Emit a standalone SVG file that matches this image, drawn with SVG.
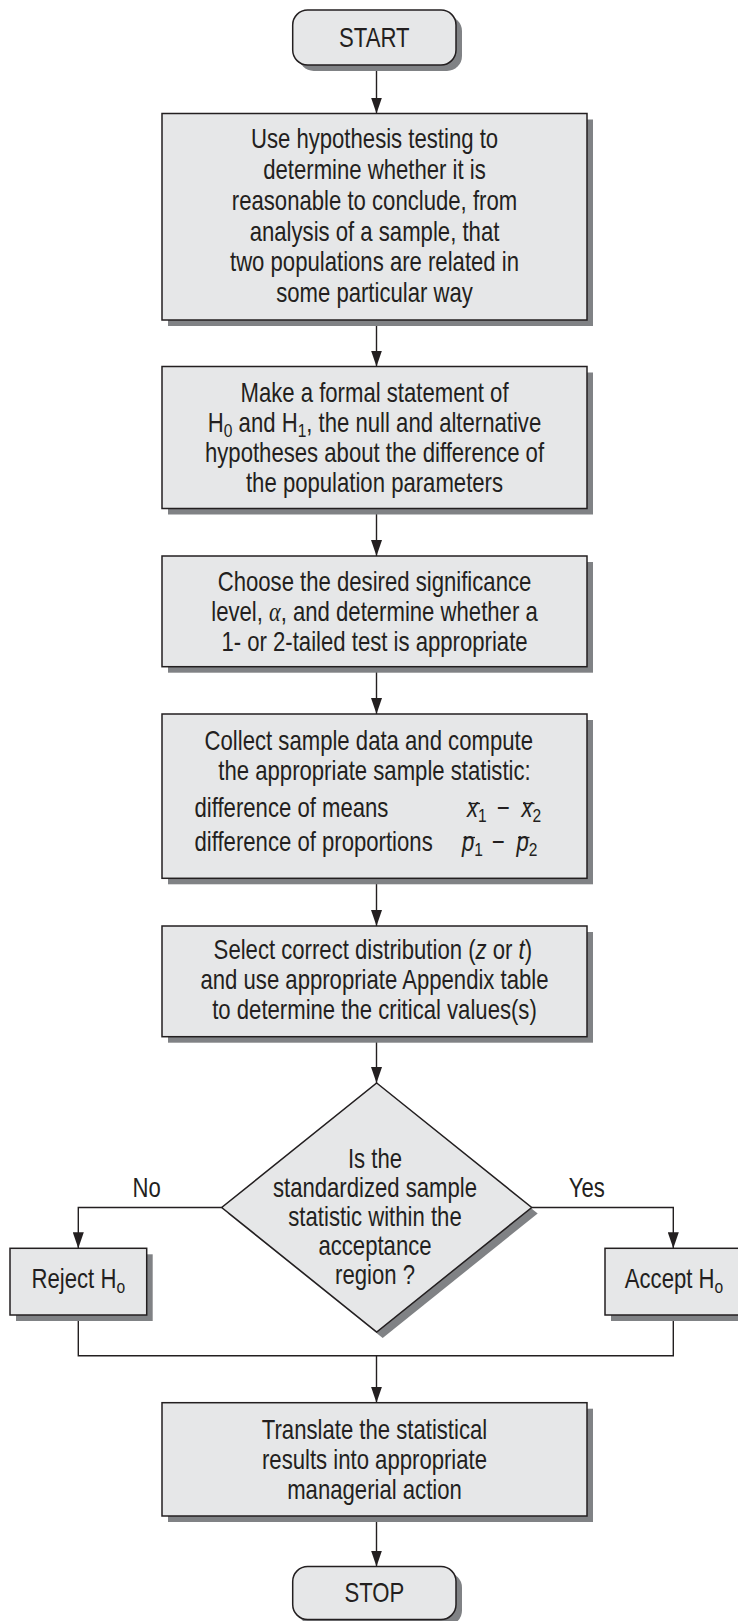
<svg xmlns="http://www.w3.org/2000/svg" width="738" height="1621" viewBox="0 0 738 1621">
  <defs>
    <style>
      .box{fill:#e6e7e8;stroke:#231f20;stroke-width:1.5}
      .shadow{fill:#808285}
      .t{font-family:"Liberation Sans",Arial,sans-serif;font-size:27px;fill:#231f20;text-anchor:middle}
      .l{text-anchor:start}
      .sub{font-size:19px}
      .it{font-style:italic}
      .greek{font-family:"Liberation Serif","DejaVu Serif",serif;font-style:italic}
      .wire{fill:none;stroke:#231f20;stroke-width:1.4}
      .arrow{marker-end:url(#ah)}
      .bar{stroke:#231f20;stroke-width:1.3}
    </style>
    <marker id="ah" markerUnits="userSpaceOnUse" markerWidth="16" markerHeight="11" refX="16" refY="5.5" orient="auto">
      <path d="M0,0 L16,5.5 L0,11 z" fill="#231f20"/>
    </marker>
  </defs>

  <rect width="738" height="1621" fill="#ffffff"/>

  <!-- connectors; every label block is narrowed with scale(0.82 1) to a condensed face -->
  <g id="connectors">
    <path class="wire arrow" d="M376.5,65 V113.5"/>
    <path class="wire arrow" d="M376.5,320 V366.5"/>
    <path class="wire arrow" d="M376.5,508.5 V556"/>
    <path class="wire arrow" d="M376.5,666.7 V714"/>
    <path class="wire arrow" d="M376.5,878.3 V926"/>
    <path class="wire arrow" d="M376.5,1036.7 V1083"/>
    <path class="wire arrow" d="M221.7,1207.5 H78.3 V1248.3"/>
    <path class="wire arrow" d="M531.7,1207.5 H673.3 V1248.3"/>
    <path class="wire" d="M78.3,1315 V1355.7 H673.3 V1315"/>
    <path class="wire arrow" d="M376.5,1355.7 V1402.7"/>
    <path class="wire arrow" d="M376.5,1516 V1566.5"/>
    <g transform="translate(146.7 0) scale(0.82 1)"><text class="t" x="0" y="1197.5">No</text></g>
    <g transform="translate(586.7 0) scale(0.82 1)"><text class="t" x="0" y="1197.5">Yes</text></g>
  </g>

  <!-- terminal: start -->
  <g id="start">
    <rect class="shadow" x="298.7" y="16" width="163.3" height="55" rx="15"/>
    <rect class="box" x="292.7" y="10" width="163.3" height="55" rx="15"/>
    <g transform="translate(374.3 0) scale(0.82 1)"><text class="t" x="0" y="47">START</text></g>
  </g>

  <!-- step 1 -->
  <g id="purpose">
    <rect class="shadow" x="168" y="119.5" width="425" height="206.5"/>
    <rect class="box" x="162" y="113.5" width="425" height="206.5"/>
    <g transform="translate(374.5 0) scale(0.82 1)">
      <text class="t" x="0" y="148.5">Use hypothesis testing to</text>
      <text class="t" x="0" y="179.2">determine whether it is</text>
      <text class="t" x="0" y="209.9">reasonable to conclude, from</text>
      <text class="t" x="0" y="240.6">analysis of a sample, that</text>
      <text class="t" x="0" y="271.3">two populations are related in</text>
      <text class="t" x="0" y="302">some particular way</text>
    </g>
  </g>

  <!-- step 2 -->
  <g id="hypotheses">
    <rect class="shadow" x="168" y="372.5" width="425" height="142"/>
    <rect class="box" x="162" y="366.5" width="425" height="142"/>
    <g transform="translate(374.5 0) scale(0.82 1)">
      <text class="t" x="0" y="402">Make a formal statement of</text>
      <text class="t" x="0" y="432">H<tspan class="sub" dy="5">0</tspan><tspan dy="-5"> and H</tspan><tspan class="sub" dy="5">1</tspan><tspan dy="-5">, the null and alternative</tspan></text>
      <text class="t" x="0" y="462">hypotheses about the difference of</text>
      <text class="t" x="0" y="492">the population parameters</text>
    </g>
  </g>

  <!-- step 3 -->
  <g id="significance">
    <rect class="shadow" x="168" y="562" width="425" height="110.7"/>
    <rect class="box" x="162" y="556" width="425" height="110.7"/>
    <g transform="translate(374.5 0) scale(0.82 1)">
      <text class="t" x="0" y="591">Choose the desired significance</text>
      <text class="t" x="0" y="621">level, <tspan class="greek">α</tspan>, and determine whether a</text>
      <text class="t" x="0" y="651">1- or 2-tailed test is appropriate</text>
    </g>
  </g>

  <!-- step 4 -->
  <g id="statistic">
    <rect class="shadow" x="168" y="720" width="425" height="164.3"/>
    <rect class="box" x="162" y="714" width="425" height="164.3"/>
    <g transform="translate(374.5 0) scale(0.82 1)">
      <text class="t" x="-7" y="750">Collect sample data and compute</text>
      <text class="t" x="0" y="780">the appropriate sample statistic:</text>
    </g>
    <g transform="translate(194.5 0) scale(0.82 1)">
      <text class="t l" x="0" y="817">difference of means</text>
      <text class="t l" x="0" y="851">difference of proportions</text>
    </g>
    <g transform="translate(462 0) scale(0.82 1)">
      <text class="t l" x="6.1" y="817"><tspan class="it">x</tspan><tspan class="sub" dy="5">1</tspan></text>
      <text class="t l" x="42.7" y="817">−</text>
      <text class="t l" x="72.6" y="817"><tspan class="it">x</tspan><tspan class="sub" dy="5">2</tspan></text>
      <text class="t l" x="0" y="851"><tspan class="it">p</tspan><tspan class="sub" dy="5">1</tspan></text>
      <text class="t l" x="36.6" y="851">−</text>
      <text class="t l" x="66.5" y="851"><tspan class="it">p</tspan><tspan class="sub" dy="5">2</tspan></text>
    </g>
    <line class="bar" x1="468.5" y1="803.5" x2="480" y2="803.5"/>
    <line class="bar" x1="523" y1="803.5" x2="534.5" y2="803.5"/>
    <line class="bar" x1="463.5" y1="837.5" x2="475" y2="837.5"/>
    <line class="bar" x1="518" y1="837.5" x2="529.5" y2="837.5"/>
  </g>

  <!-- step 5 -->
  <g id="distribution">
    <rect class="shadow" x="168" y="932" width="425" height="110.7"/>
    <rect class="box" x="162" y="926" width="425" height="110.7"/>
    <g transform="translate(374.5 0) scale(0.82 1)">
      <text class="t" x="-2" y="959">Select correct distribution (<tspan class="it">z</tspan> or <tspan class="it">t</tspan>)</text>
      <text class="t" x="0" y="989">and use appropriate Appendix table</text>
      <text class="t" x="0" y="1019">to determine the critical values(s)</text>
    </g>
  </g>

  <!-- decision -->
  <g id="decision">
    <polygon class="shadow" points="382.7,1089 537.7,1213.5 382.7,1338 227.7,1213.5"/>
    <polygon class="box" points="376.7,1083 531.7,1207.5 376.7,1332 221.7,1207.5"/>
    <g transform="translate(375 0) scale(0.82 1)">
      <text class="t" x="0" y="1168">Is the</text>
      <text class="t" x="0" y="1197">standardized sample</text>
      <text class="t" x="0" y="1226">statistic within the</text>
      <text class="t" x="0" y="1255">acceptance</text>
      <text class="t" x="0" y="1284">region ?</text>
    </g>
  </g>

  <!-- outcome: reject -->
  <g id="reject">
    <rect class="shadow" x="16" y="1254.3" width="136.7" height="66.7"/>
    <rect class="box" x="10" y="1248.3" width="136.7" height="66.7"/>
    <g transform="translate(78.3 0) scale(0.82 1)"><text class="t" x="0" y="1288.5">Reject H<tspan class="sub" dy="5">o</tspan></text></g>
  </g>

  <!-- outcome: accept -->
  <g id="accept">
    <rect class="shadow" x="611" y="1254.3" width="137" height="66.7"/>
    <rect class="box" x="605" y="1248.3" width="137" height="66.7"/>
    <g transform="translate(674 0) scale(0.82 1)"><text class="t" x="0" y="1288.5">Accept H<tspan class="sub" dy="5">o</tspan></text></g>
  </g>

  <!-- step 6 -->
  <g id="action">
    <rect class="shadow" x="168" y="1408.7" width="425" height="113.3"/>
    <rect class="box" x="162" y="1402.7" width="425" height="113.3"/>
    <g transform="translate(374.5 0) scale(0.82 1)">
      <text class="t" x="0" y="1439">Translate the statistical</text>
      <text class="t" x="0" y="1469">results into appropriate</text>
      <text class="t" x="0" y="1499">managerial action</text>
    </g>
  </g>

  <!-- terminal: stop -->
  <g id="stop">
    <rect class="shadow" x="298.7" y="1572.5" width="163.3" height="53" rx="15"/>
    <rect class="box" x="292.7" y="1566.5" width="163.3" height="53" rx="15"/>
    <g transform="translate(374.3 0) scale(0.82 1)"><text class="t" x="0" y="1602.5">STOP</text></g>
  </g>
</svg>
